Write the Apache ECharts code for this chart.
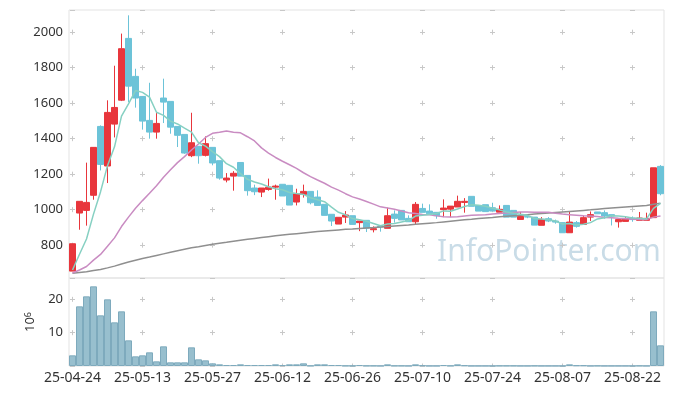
<!DOCTYPE html>
<html><head><meta charset="utf-8">
<script src="https://cdn.jsdelivr.net/npm/echarts@6/dist/echarts.min.js"></script>
<style>html,body{margin:0;padding:0;background:#fff}#c{width:673px;height:396px}</style>
</head><body><div id="c"></div>
<script>
const dates = ['25-04-24','25-04-25','25-04-28','25-04-29','25-04-30','25-05-02','25-05-07','25-05-08','25-05-09','25-05-12',
'25-05-13','25-05-14','25-05-15','25-05-16','25-05-19','25-05-20','25-05-21','25-05-22','25-05-23','25-05-26',
'25-05-27','25-05-28','25-05-29','25-05-30','25-06-02','25-06-04','25-06-05','25-06-09','25-06-10','25-06-11',
'25-06-12','25-06-13','25-06-16','25-06-17','25-06-18','25-06-19','25-06-20','25-06-23','25-06-24','25-06-25',
'25-06-26','25-06-27','25-06-30','25-07-01','25-07-02','25-07-03','25-07-04','25-07-07','25-07-08','25-07-09',
'25-07-10','25-07-11','25-07-14','25-07-15','25-07-16','25-07-17','25-07-18','25-07-21','25-07-22','25-07-23',
'25-07-24','25-07-25','25-07-28','25-07-29','25-07-30','25-07-31','25-08-01','25-08-04','25-08-05','25-08-06',
'25-08-07','25-08-08','25-08-11','25-08-12','25-08-13','25-08-14','25-08-18','25-08-19','25-08-20','25-08-21',
'25-08-22','25-08-25','25-08-26','25-08-27','25-08-28'];

const open = [654,981,996,1081,1469,1246,1482,1617,1965,1751, 1638,1503,1437,1629,1610,1469,1424,1304,1357,1306,
1351,1276,1167,1189,1266,1193,1122,1099,1114,1127, 1143,1137,1043,1086,1103,1071,1030,974,919,958,
966,927,940,887,906,895,975,996,951,932, 1007,992,985,1000,1003,1015,1041,1075,1023,1028,
1011,986,1024,996,945,962,958,912,949,936, 927,870,927,917,958,987,983,972,932,934,
953,940,940,955,1244];
const close = [808,1047,1041,1351,1255,1548,1576,1907,1696,1629, 1499,1437,1486,1606,1465,1419,1319,1377,1304,1372,
1263,1178,1178,1205,1189,1107,1101,1122,1127,1133, 1077,1026,1090,1103,1039,1024,968,936,957,970,
917,936,896,893,902,966,951,942,932,1030, 985,977,966,1009,1020,1047,1047,1019,992,989,
992,1002,958,958,962,958,913,945,936,930, 870,930,906,955,972,977,964,964,944,949,
944,953,951,1236,1090];
const low = [654,887,910,1056,1221,1150,1407,1612,1606,1575, 1451,1400,1400,1488,1428,1353,1315,1296,1259,1300,
1250,1169,1154,1107,1189,1079,1082,1071,1107,1056, 1077,1026,1024,1068,1030,1024,968,908,919,925,
917,879,874,872,876,895,927,942,932,917, 985,977,949,958,958,1015,983,1019,992,989,
992,986,958,958,945,952,913,912,930,921, 870,870,899,917,936,977,949,911,899,934,
932,940,940,955,1081];
const high = [808,1047,1265,1351,1475,1616,1811,1992,2095,1794, 1640,1715,1544,1738,1610,1469,1424,1546,1357,1413,
1351,1276,1206,1217,1266,1193,1141,1122,1175,1141, 1143,1137,1118,1141,1103,1109,1030,974,957,992,
966,936,940,906,906,1011,996,996,968,1043, 1034,1030,985,1058,1020,1079,1065,1075,1023,1028,
1039,1024,1024,996,987,968,958,958,958,944, 927,987,936,966,990,987,996,972,944,958,
962,987,983,1236,1251];

const ma5 = [660,749,835,975,1100,1248,1354,1527,1596,1671, 1661,1634,1549,1531,1499,1483,1459,1437,1377,1358,
1327,1299,1259,1239,1203,1171,1156,1145,1129,1118, 1112,1097,1091,1086,1067,1056,1045,1014,985,971,
950,943,935,922,909,919,922,931,939,964, 968,973,978,993,991,1004,1018,1028,1025,1019,
1008,999,987,980,974,968,950,947,943,936, 919,922,914,918,927,948,955,966,964,960,
953,951,948,1007,1035];
const ma20 = [643,660,680,716,748,794,841,905,958,1008, 1051,1092,1135,1183,1225,1265,1299,1336,1370,1407,
1430,1436,1443,1436,1433,1411,1387,1348,1319,1294, 1273,1253,1233,1208,1186,1167,1149,1127,1110,1090,
1072,1060,1046,1031,1016,1009,1002,993,983,978, 973,971,965,960,959,960,964,968,970,971,
975,978,981,984,987,987,985,985,985,980, 975,972,969,966,964,961,956,954,951,949,
947,944,944,958,964];
const ma100 = [642,646,650,657,663,672,682,694,705,715, 725,733,742,751,760,769,777,785,791,798,
805,811,816,822,828,833,838,843,848,853, 857,861,865,869,873,877,880,883,886,889,
891,894,897,899,902,905,908,911,914,918, 921,924,927,931,935,939,943,946,950,953,
956,960,963,966,969,972,975,978,981,984, 987,990,993,996,999,1003,1006,1009,1012,1015,
1018,1021,1024,1030,1036];
const volume = [3.2,17.9,20.9,23.9,15.2,20.0,13.1,16.4,7.7,2.9, 3.2,4.1,1.4,5.9,1.1,1.1,1.1,5.6,2.0,1.7,
0.8,0.5,0.3,0.3,0.5,0.3,0.3,0.3,0.3,0.5, 0.3,0.5,0.5,0.8,0.1,0.5,0.5,0.3,0.3,0.1,
0.1,0.3,0.1,0.1,0.05,0.5,0.1,0.1,0.05,0.5, 0.2,0.05,0.05,0.3,0.1,0.5,0.2,0.05,0.05,0.05,
0.05,0.1,0.1,0.1,0.05,0.05,0.1,0.05,0.05,0.05, 0.05,0.5,0.2,0.2,0.05,0.1,0.05,0.05,0.05,0.05,
0.05,0.1,0.05,16.4,6.2];

const candles = dates.map((d, i) => [open[i], close[i], low[i], high[i]]);

const FONT = 'Noto Sans';
const UP = '#e8363c', DOWN = '#6cc3d8';
const GRIDC = '#e3e3e3', CROSS = '#c8c8c8';
const DASH = 5;

const PRICE_MIN = 615, PRICE_MAX = 2125, VOL_MAX = 26.4;
const G0 = {left: 69, right: 9, top: 10, height: 268};
const G1 = {left: 69, right: 9, top: 278, height: 88};
const bandPx = (673 - 69 - 9) / dates.length;
const hPeriod = bandPx * 10;
const hDash = [DASH, hPeriod - DASH];
const hOffset = hPeriod - (bandPx / 2 - DASH / 2);
const pPeriod = 200 * G0.height / (PRICE_MAX - PRICE_MIN);
const pCenter = (PRICE_MAX - 2000) * G0.height / (PRICE_MAX - PRICE_MIN);
const pOffset = pPeriod - ((pCenter - DASH / 2) % pPeriod);
const vPeriod = 10 * G1.height / VOL_MAX;
const vCenter = (VOL_MAX - 20) * G1.height / VOL_MAX;
const vOffset = vPeriod - ((vCenter - DASH / 2) % vPeriod);

const labelStyle = {color: '#333', fontSize: 13, fontFamily: FONT};

const chart = echarts.init(document.getElementById('c'), null, {renderer: 'canvas'});
chart.setOption({
  animation: false,
  textStyle: {fontFamily: FONT},
  grid: [
    Object.assign({show: true, borderColor: GRIDC, borderWidth: 1, backgroundColor: 'transparent'}, G0),
    Object.assign({show: true, borderColor: GRIDC, borderWidth: 1, backgroundColor: 'transparent'}, G1)
  ],
  graphic: [{
    type: 'text', left: 437, top: 237, z: 0, silent: true,
    style: {text: 'InfoPointer.com', font: '30px "Noto Sans"', fill: '#c9dce7'}
  }],
  xAxis: [
    {type: 'category', gridIndex: 0, data: dates, boundaryGap: true,
     axisLine: {show: false}, axisTick: {show: false}, axisLabel: {show: false},
     splitLine: {show: true, interval: 9, alignWithLabel: true,
       lineStyle: {color: CROSS, width: 1, type: [DASH, pPeriod - DASH], dashOffset: pOffset}}},
    {type: 'category', gridIndex: 1, data: dates, boundaryGap: true,
     axisLine: {show: false}, axisTick: {show: false},
     axisLabel: Object.assign({}, labelStyle, {interval: 9, margin: 5, fontSize: 14}),
     splitLine: {show: true, interval: 9, alignWithLabel: true,
       lineStyle: {color: CROSS, width: 1, type: [DASH, vPeriod - DASH], dashOffset: vOffset}}}
  ],
  yAxis: [
    {type: 'value', gridIndex: 0, min: PRICE_MIN, max: PRICE_MAX, minInterval: 200, maxInterval: 200,
     axisLine: {show: false}, axisTick: {show: false},
     axisLabel: Object.assign({showMinLabel: false, showMaxLabel: false, margin: 6,
       formatter: v => String(v)}, labelStyle),
     splitLine: {show: true, lineStyle: {color: CROSS, width: 1, type: hDash, dashOffset: hOffset}}},
    {type: 'value', gridIndex: 1, min: 0, max: VOL_MAX, minInterval: 10, maxInterval: 10,
     name: '10{sup|6}', nameLocation: 'middle', nameRotate: 90, nameGap: 30,
     nameTextStyle: {color: '#333', fontSize: 13, fontFamily: FONT,
       rich: {sup: {fontSize: 9, verticalAlign: 'top', color: '#333', fontFamily: FONT}}},
     axisLine: {show: false}, axisTick: {show: false},
     axisLabel: Object.assign({showMinLabel: false, showMaxLabel: false, margin: 6,
       formatter: v => String(v)}, labelStyle),
     splitLine: {show: true, lineStyle: {color: CROSS, width: 1, type: hDash, dashOffset: hOffset}}}
  ],
  series: [
    {type: 'candlestick', xAxisIndex: 0, yAxisIndex: 0, data: candles, barWidth: '80%',
     itemStyle: {color: UP, color0: DOWN, borderColor: UP, borderColor0: DOWN, borderWidth: 1}},
    {type: 'line', xAxisIndex: 0, yAxisIndex: 0, data: ma100, symbol: 'none',
     lineStyle: {color: '#8f8f8f', width: 1.5}},
    {type: 'line', xAxisIndex: 0, yAxisIndex: 0, data: ma20, symbol: 'none',
     lineStyle: {color: '#c98cc2', width: 1.5}},
    {type: 'line', xAxisIndex: 0, yAxisIndex: 0, data: ma5, symbol: 'none',
     lineStyle: {color: '#86d0c2', width: 1.5}},
    {type: 'bar', xAxisIndex: 1, yAxisIndex: 1, data: volume, barWidth: '100%',
     itemStyle: {color: '#98bfce', borderColor: '#7eaabd', borderWidth: 1}}
  ]
});
</script></body></html>
